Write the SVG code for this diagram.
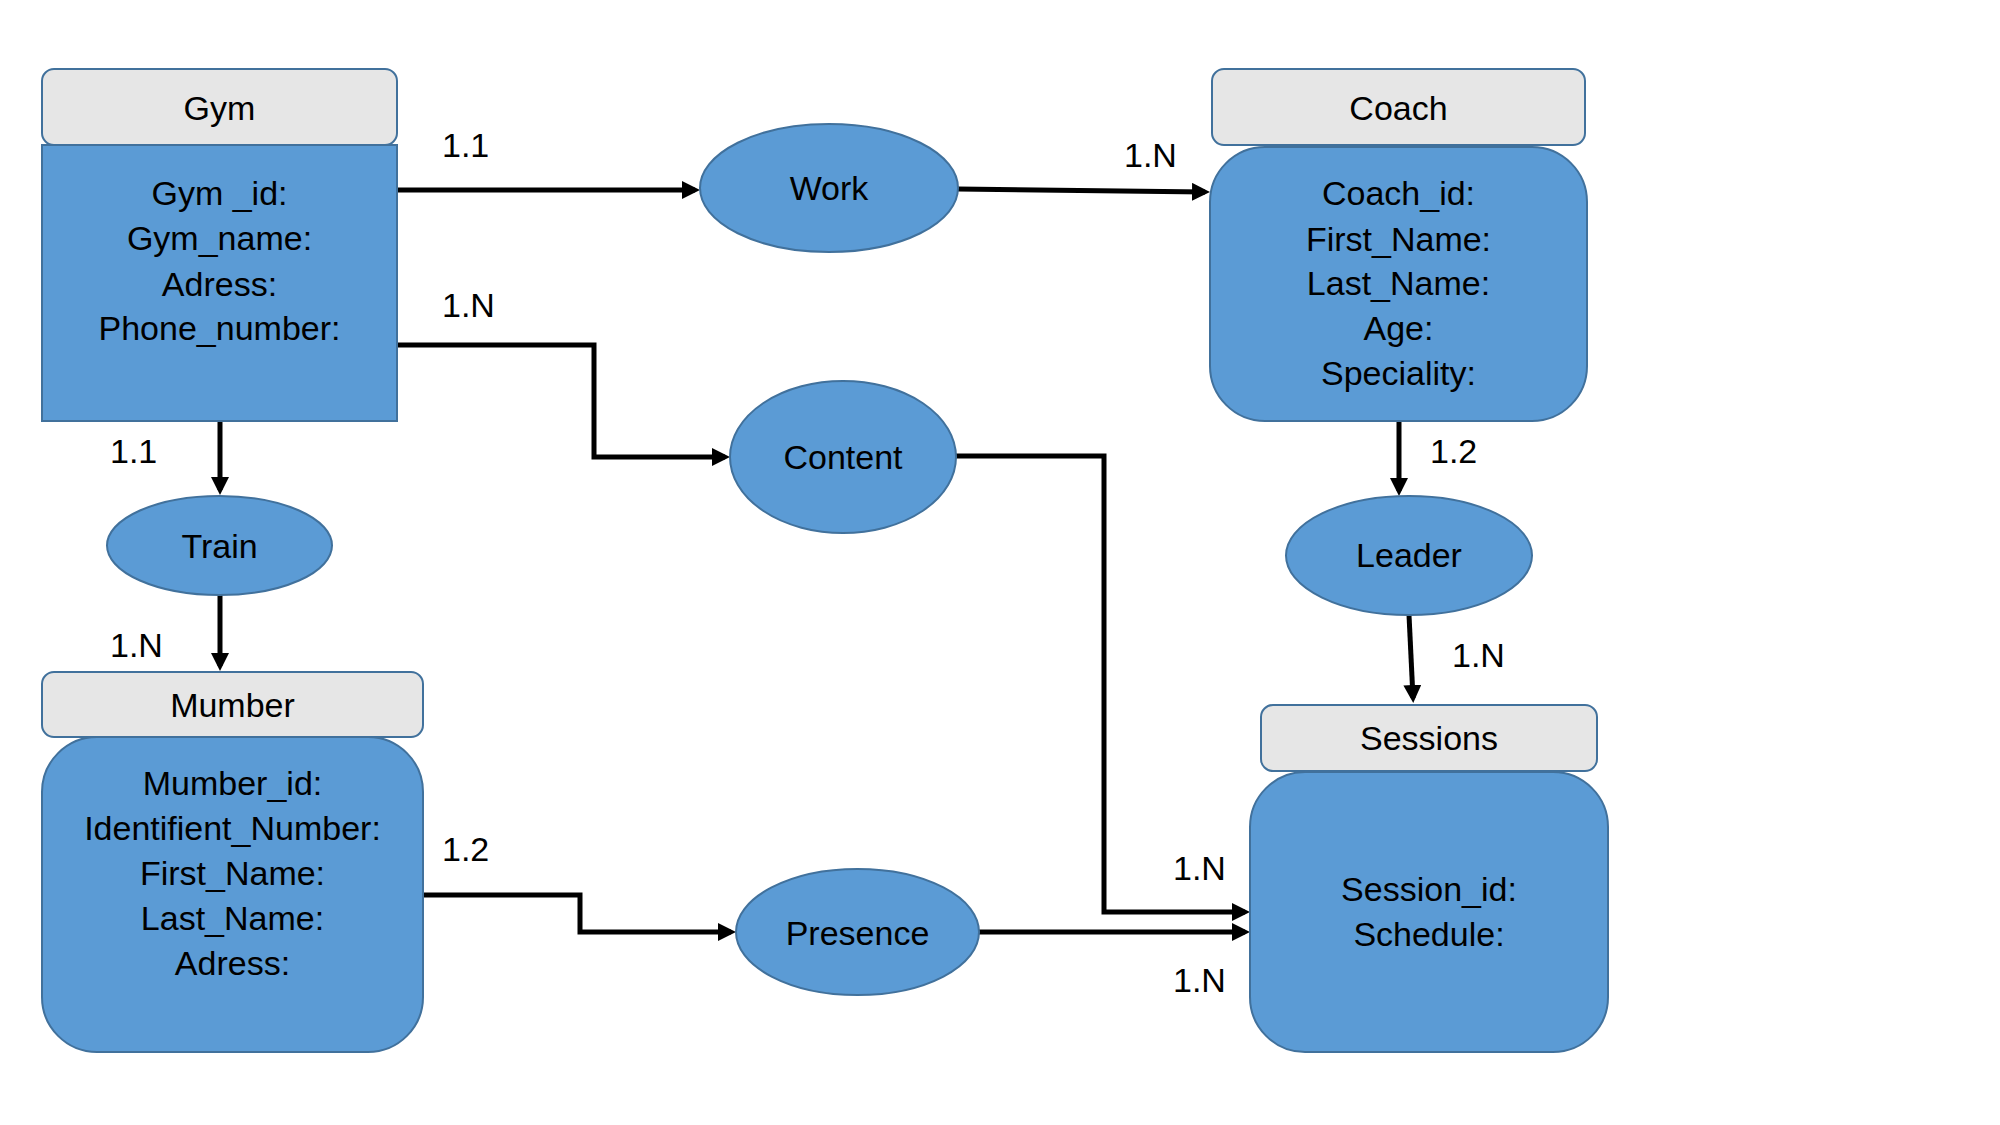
<svg xmlns="http://www.w3.org/2000/svg" width="2000" height="1125" viewBox="0 0 2000 1125">
<style>
text{font-family:"Liberation Sans",Arial,sans-serif;font-size:34px;fill:#000}
.c{text-anchor:middle}
.hdr{fill:#E6E6E6;stroke:#41719C;stroke-width:2}
.body{fill:#5B9BD5;stroke:#41719C;stroke-width:2}
.rel{fill:#5B9BD5;stroke:#41719C;stroke-width:2}
.conn{fill:none;stroke:#000;stroke-width:5;marker-end:url(#ah)}
</style>
<defs>
<marker id="ah" markerUnits="userSpaceOnUse" markerWidth="18" markerHeight="18" refX="13" refY="9" orient="auto">
<path d="M0,0 L18,9 L0,18 Z" fill="#000"/>
</marker>
</defs>
<rect width="2000" height="1125" fill="#fff"/>
<g id="connectors">
<path class="conn" d="M397,190 H695"/>
<path class="conn" d="M958,189 L1205,192"/>
<path class="conn" d="M397,345 H594 V457 H725"/>
<path class="conn" d="M956,456 H1104 V912 H1245"/>
<path class="conn" d="M220,421 V490"/>
<path class="conn" d="M220,595 V666"/>
<path class="conn" d="M423,895 H580 V932 H731"/>
<path class="conn" d="M979,932 H1245"/>
<path class="conn" d="M1399,421 V491"/>
<path class="conn" d="M1409,615 L1413,698"/>
</g>
<g id="labels">
<text x="442" y="157">1.1</text>
<text x="442" y="317">1.N</text>
<text x="1124" y="167">1.N</text>
<text x="110" y="463">1.1</text>
<text x="110" y="657">1.N</text>
<text x="1430" y="463">1.2</text>
<text x="1452" y="667">1.N</text>
<text x="442" y="861">1.2</text>
<text x="1173" y="880">1.N</text>
<text x="1173" y="992">1.N</text>
</g>
<g id="gym">
<rect class="hdr" x="42" y="69" width="355" height="76" rx="12"/>
<rect class="body" x="42" y="145" width="355" height="276"/>
<text class="c" x="219.5" y="120">Gym</text>
<text class="c" x="219.5" y="205">Gym _id:</text>
<text class="c" x="219.5" y="250">Gym_name:</text>
<text class="c" x="219.5" y="296">Adress:</text>
<text class="c" x="219.5" y="340">Phone_number:</text>
</g>
<g id="work">
<ellipse class="rel" cx="829" cy="188" rx="129" ry="64"/>
<text class="c" x="829" y="200">Work</text>
</g>
<g id="coach">
<rect class="hdr" x="1212" y="69" width="373" height="76" rx="12"/>
<rect class="body" x="1210" y="147" width="377" height="274" rx="55"/>
<text class="c" x="1398.5" y="120">Coach</text>
<text class="c" x="1398.5" y="205">Coach_id:</text>
<text class="c" x="1398.5" y="251">First_Name:</text>
<text class="c" x="1398.5" y="295">Last_Name:</text>
<text class="c" x="1398.5" y="340">Age:</text>
<text class="c" x="1398.5" y="385">Speciality:</text>
</g>
<g id="content">
<ellipse class="rel" cx="843" cy="457" rx="113" ry="76"/>
<text class="c" x="843" y="469">Content</text>
</g>
<g id="train">
<ellipse class="rel" cx="219.5" cy="545.5" rx="112.5" ry="49.5"/>
<text class="c" x="219.5" y="558">Train</text>
</g>
<g id="leader">
<ellipse class="rel" cx="1409" cy="555.5" rx="123" ry="59.5"/>
<text class="c" x="1409" y="567">Leader</text>
</g>
<g id="mumber">
<rect class="hdr" x="42" y="672" width="381" height="65" rx="12"/>
<rect class="body" x="42" y="737" width="381" height="315" rx="55"/>
<text class="c" x="232.5" y="717">Mumber</text>
<text class="c" x="232.5" y="795">Mumber_id:</text>
<text class="c" x="232.5" y="840">Identifient_Number:</text>
<text class="c" x="232.5" y="885">First_Name:</text>
<text class="c" x="232.5" y="930">Last_Name:</text>
<text class="c" x="232.5" y="975">Adress:</text>
</g>
<g id="presence">
<ellipse class="rel" cx="857.5" cy="932" rx="121.5" ry="63"/>
<text class="c" x="857.5" y="945">Presence</text>
</g>
<g id="sessions">
<rect class="hdr" x="1261" y="705" width="336" height="66" rx="12"/>
<rect class="body" x="1250" y="772" width="358" height="280" rx="55"/>
<text class="c" x="1429" y="750">Sessions</text>
<text class="c" x="1429" y="901">Session_id:</text>
<text class="c" x="1429" y="946">Schedule:</text>
</g>
</svg>
